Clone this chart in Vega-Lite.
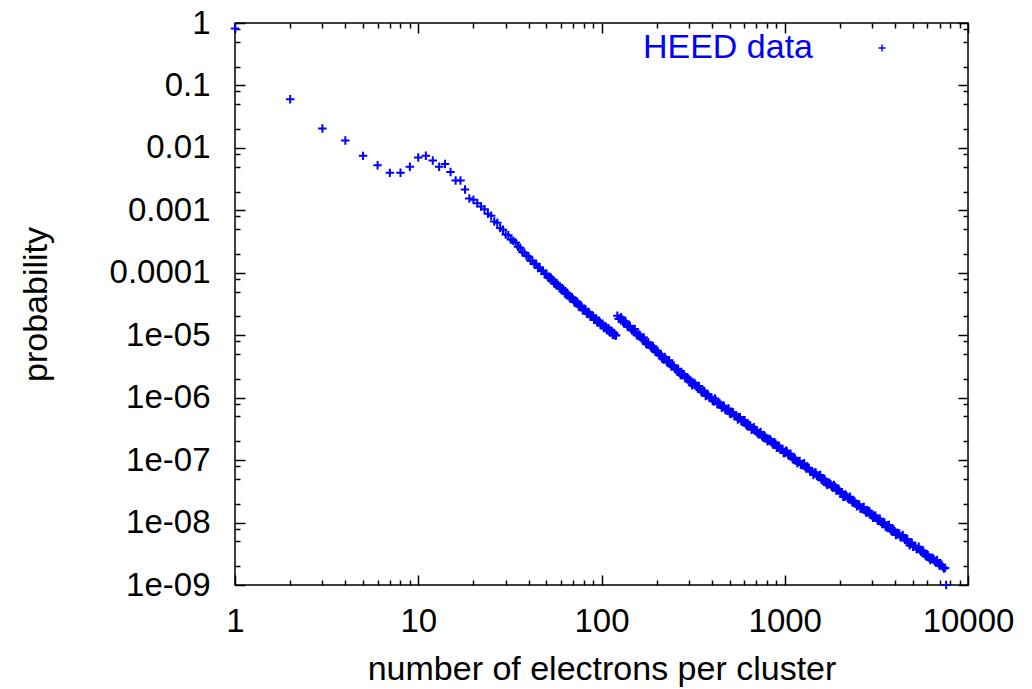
{
  "$schema": "https://vega.github.io/schema/vega-lite/v6.json",
  "width": 733,
  "height": 562,
  "autosize": {"type": "none"},
  "padding": {"left": 235, "top": 23, "right": 64, "bottom": 104},
  "background": "white",
  "config": {
    "font": "Liberation Sans",
    "view": {"stroke": "black", "strokeWidth": 1.5},
    "axis": {"grid": false, "domain": false, "tickColor": "black", "tickWidth": 1.5, "labelColor": "black", "titleColor": "black", "labelFont": "Liberation Sans", "titleFont": "Liberation Sans"}
  },
  "data": {"values": [
    {"n":1,"p":0.82},{"n":2,"p":0.060},{"n":3,"p":0.0204},{"n":4,"p":0.0131},{"n":5,"p":0.00745},
    {"n":6,"p":0.00528},{"n":7,"p":0.00398},{"n":8,"p":0.0040},{"n":9,"p":0.0050},{"n":10,"p":0.0070},
    {"n":11,"p":0.0075},{"n":12,"p":0.0063},{"n":13,"p":0.0050},{"n":14,"p":0.0055},{"n":15,"p":0.0041},
    {"n":16,"p":0.0030},{"n":17,"p":0.0030},{"n":18,"p":0.00215},{"n":19,"p":0.00155},{"n":20,"p":0.00148},
    {"n":21,"p":0.0013},{"n":22,"p":0.00115},{"n":23,"p":0.00104},{"n":24,"p":0.00088},{"n":25,"p":0.00082},
    {"n":26,"p":0.00066},{"n":27,"p":0.00063},{"n":28,"p":0.00052},{"n":29,"p":0.00049},{"n":30,"p":0.00041},
    {"n":31,"p":3.98e-4},{"n":32,"p":3.40e-4},{"n":33,"p":3.27e-4},{"n":34,"p":3.05e-4},{"n":35,"p":2.60e-4},
    {"n":36,"p":2.52e-4},{"n":37,"p":2.13e-4},{"n":38,"p":2.10e-4},{"n":39,"p":1.87e-4},{"n":40,"p":1.83e-4},
    {"n":41,"p":1.56e-4},{"n":42,"p":1.55e-4},{"n":43,"p":1.39e-4},{"n":44,"p":1.40e-4},{"n":45,"p":1.19e-4},
    {"n":46,"p":1.22e-4},{"n":47,"p":1.08e-4},{"n":48,"p":1.07e-4},{"n":49,"p":9.55e-5},{"n":50,"p":9.77e-5},
    {"n":51,"p":8.43e-5},{"n":52,"p":8.18e-5},{"n":53,"p":8.32e-5},{"n":54,"p":7.82e-5},{"n":55,"p":6.78e-5},
    {"n":56,"p":6.59e-5},{"n":57,"p":6.81e-5},{"n":58,"p":6.35e-5},{"n":59,"p":5.65e-5},{"n":60,"p":5.52e-5},
    {"n":61,"p":5.71e-5},{"n":62,"p":5.41e-5},{"n":63,"p":4.72e-5},{"n":64,"p":4.58e-5},{"n":65,"p":4.76e-5},
    {"n":66,"p":4.47e-5},{"n":67,"p":3.95e-5},{"n":68,"p":3.84e-5},{"n":69,"p":4.05e-5},{"n":70,"p":3.76e-5},
    {"n":71,"p":3.41e-5},{"n":72,"p":3.36e-5},{"n":73,"p":3.51e-5},{"n":74,"p":3.34e-5},{"n":75,"p":2.94e-5},
    {"n":76,"p":2.86e-5},{"n":77,"p":3.00e-5},{"n":78,"p":2.83e-5},{"n":79,"p":2.52e-5},{"n":80,"p":2.52e-5},
    {"n":81,"p":2.62e-5},{"n":82,"p":2.55e-5},{"n":83,"p":2.25e-5},{"n":84,"p":2.19e-5},{"n":85,"p":2.36e-5},
    {"n":86,"p":2.21e-5},{"n":87,"p":2.00e-5},{"n":88,"p":2.00e-5},{"n":89,"p":2.08e-5},{"n":90,"p":2.02e-5},
    {"n":91,"p":1.77e-5},{"n":92,"p":1.77e-5},{"n":93,"p":1.86e-5},{"n":94,"p":1.75e-5},{"n":95,"p":1.61e-5},
    {"n":96,"p":1.61e-5},{"n":97,"p":1.70e-5},{"n":98,"p":1.62e-5},{"n":99,"p":1.46e-5},{"n":100,"p":1.44e-5},
    {"n":101,"p":1.52e-5},{"n":102,"p":1.45e-5},{"n":103,"p":1.30e-5},{"n":104,"p":1.32e-5},{"n":105,"p":1.39e-5},
    {"n":106,"p":1.34e-5},{"n":107,"p":1.21e-5},{"n":108,"p":1.20e-5},{"n":109,"p":1.29e-5},{"n":110,"p":1.22e-5},
    {"n":111,"p":1.12e-5},{"n":112,"p":1.12e-5},{"n":113,"p":1.18e-5},{"n":114,"p":1.14e-5},{"n":115,"p":1.02e-5},
    {"n":116,"p":1.04e-5},{"n":117,"p":1.09e-5},{"n":118,"p":1.00e-5},{"n":119,"p":1.01e-5},{"n":120,"p":9.9e-6},
    {"n":122,"p":2.05e-5},{"n":124,"p":1.83e-5},{"n":126,"p":1.83e-5},{"n":128,"p":1.94e-5},{"n":130,"p":1.78e-5},
    {"n":131,"p":1.63e-5},{"n":133,"p":1.54e-5},{"n":135,"p":1.68e-5},{"n":137,"p":1.50e-5},{"n":139,"p":1.37e-5},
    {"n":141,"p":1.41e-5},{"n":143,"p":1.41e-5},{"n":145,"p":1.26e-5},{"n":147,"p":1.19e-5},{"n":150,"p":1.22e-5},
    {"n":152,"p":1.26e-5},{"n":154,"p":1.09e-5},{"n":156,"p":1.00e-5},{"n":158,"p":1.00e-5},{"n":161,"p":1.03e-5},
    {"n":163,"p":9.72e-6},{"n":165,"p":8.91e-6},{"n":168,"p":8.41e-6},{"n":170,"p":9.17e-6},{"n":173,"p":8.18e-6},
    {"n":175,"p":7.29e-6},{"n":178,"p":7.08e-6},{"n":180,"p":7.72e-6},{"n":183,"p":6.88e-6},{"n":186,"p":6.49e-6},
    {"n":188,"p":6.31e-6},{"n":191,"p":6.68e-6},{"n":194,"p":6.13e-6},{"n":197,"p":5.46e-6},{"n":200,"p":5.31e-6},
    {"n":202,"p":5.62e-6},{"n":205,"p":5.16e-6},{"n":208,"p":4.87e-6},{"n":211,"p":4.87e-6},{"n":214,"p":4.22e-6},
    {"n":218,"p":4.10e-6},{"n":221,"p":4.47e-6},{"n":224,"p":4.22e-6},{"n":227,"p":3.76e-6},{"n":230,"p":3.65e-6},
    {"n":234,"p":3.98e-6},{"n":237,"p":3.45e-6},{"n":241,"p":3.16e-6},{"n":244,"p":3.35e-6},{"n":248,"p":3.25e-6},
    {"n":251,"p":2.90e-6},{"n":255,"p":2.82e-6},{"n":259,"p":2.82e-6},{"n":262,"p":2.90e-6},{"n":266,"p":2.51e-6},
    {"n":270,"p":2.30e-6},{"n":274,"p":2.44e-6},{"n":278,"p":2.37e-6},{"n":282,"p":2.37e-6},{"n":286,"p":2.05e-6},
    {"n":290,"p":2.05e-6},{"n":294,"p":2.11e-6},{"n":299,"p":2.00e-6},{"n":303,"p":1.88e-6},{"n":307,"p":1.73e-6},
    {"n":312,"p":1.58e-6},{"n":316,"p":1.68e-6},{"n":321,"p":1.73e-6},{"n":325,"p":1.63e-6},{"n":330,"p":1.50e-6},
    {"n":335,"p":1.41e-6},{"n":340,"p":1.54e-6},{"n":345,"p":1.37e-6},{"n":350,"p":1.26e-6},{"n":355,"p":1.22e-6},
    {"n":360,"p":1.30e-6},{"n":365,"p":1.26e-6},{"n":370,"p":1.06e-6},{"n":376,"p":1.09e-6},{"n":381,"p":1.12e-6},
    {"n":387,"p":1.03e-6},{"n":392,"p":1.00e-6},{"n":398,"p":1.00e-6},{"n":404,"p":8.91e-7},{"n":410,"p":8.66e-7},
    {"n":416,"p":9.72e-7},{"n":422,"p":8.91e-7},{"n":428,"p":7.94e-7},{"n":434,"p":7.94e-7},{"n":440,"p":8.18e-7},
    {"n":447,"p":7.72e-7},{"n":453,"p":6.88e-7},{"n":460,"p":7.50e-7},{"n":466,"p":7.29e-7},{"n":473,"p":6.49e-7},
    {"n":480,"p":6.31e-7},{"n":487,"p":6.31e-7},{"n":494,"p":6.68e-7},{"n":501,"p":5.62e-7},{"n":508,"p":5.46e-7},
    {"n":516,"p":5.79e-7},{"n":523,"p":5.79e-7},{"n":531,"p":5.16e-7},{"n":539,"p":5.16e-7},{"n":546,"p":5.01e-7},
    {"n":554,"p":4.47e-7},{"n":562,"p":4.87e-7},{"n":570,"p":4.87e-7},{"n":579,"p":4.22e-7},{"n":587,"p":4.10e-7},
    {"n":596,"p":4.34e-7},{"n":604,"p":4.34e-7},{"n":613,"p":3.76e-7},{"n":622,"p":3.55e-7},{"n":631,"p":3.65e-7},
    {"n":640,"p":3.65e-7},{"n":649,"p":3.55e-7},{"n":659,"p":3.07e-7},{"n":668,"p":3.16e-7},{"n":678,"p":3.35e-7},
    {"n":688,"p":3.07e-7},{"n":698,"p":2.99e-7},{"n":708,"p":2.74e-7},{"n":718,"p":2.59e-7},{"n":729,"p":2.66e-7},
    {"n":739,"p":2.82e-7},{"n":750,"p":2.44e-7},{"n":761,"p":2.30e-7},{"n":772,"p":2.51e-7},{"n":783,"p":2.37e-7},
    {"n":794,"p":2.18e-7},{"n":806,"p":2.00e-7},{"n":818,"p":2.11e-7},{"n":829,"p":2.18e-7},{"n":841,"p":2.05e-7},
    {"n":854,"p":1.88e-7},{"n":866,"p":1.78e-7},{"n":879,"p":1.94e-7},{"n":891,"p":1.83e-7},{"n":904,"p":1.58e-7},
    {"n":917,"p":1.58e-7},{"n":931,"p":1.68e-7},{"n":944,"p":1.54e-7},{"n":958,"p":1.50e-7},{"n":972,"p":1.50e-7},
    {"n":986,"p":1.30e-7},{"n":1000,"p":1.30e-7},{"n":1015,"p":1.41e-7},{"n":1029,"p":1.37e-7},{"n":1044,"p":1.22e-7},
    {"n":1059,"p":1.19e-7},{"n":1075,"p":1.26e-7},{"n":1090,"p":1.12e-7},{"n":1106,"p":1.03e-7},{"n":1122,"p":1.09e-7},
    {"n":1138,"p":1.06e-7},{"n":1155,"p":9.72e-8},{"n":1172,"p":8.91e-8},{"n":1189,"p":9.44e-8},{"n":1206,"p":9.72e-8},
    {"n":1223,"p":8.41e-8},{"n":1241,"p":8.41e-8},{"n":1259,"p":8.66e-8},{"n":1277,"p":8.91e-8},{"n":1296,"p":7.72e-8},
    {"n":1314,"p":7.29e-8},{"n":1334,"p":7.50e-8},{"n":1353,"p":7.50e-8},{"n":1373,"p":6.68e-8},{"n":1392,"p":6.68e-8},
    {"n":1413,"p":6.49e-8},{"n":1433,"p":5.79e-8},{"n":1454,"p":6.31e-8},{"n":1475,"p":6.31e-8},{"n":1496,"p":5.62e-8},
    {"n":1518,"p":5.46e-8},{"n":1540,"p":5.46e-8},{"n":1562,"p":5.79e-8},{"n":1585,"p":4.87e-8},{"n":1608,"p":4.73e-8},
    {"n":1631,"p":5.01e-8},{"n":1655,"p":4.87e-8},{"n":1679,"p":4.34e-8},{"n":1703,"p":3.98e-8},{"n":1728,"p":4.22e-8},
    {"n":1753,"p":4.34e-8},{"n":1778,"p":4.10e-8},{"n":1804,"p":3.76e-8},{"n":1830,"p":3.65e-8},{"n":1857,"p":3.98e-8},
    {"n":1884,"p":3.76e-8},{"n":1911,"p":3.25e-8},{"n":1939,"p":3.25e-8},{"n":1967,"p":3.45e-8},{"n":1995,"p":3.16e-8},
    {"n":2024,"p":3.07e-8},{"n":2054,"p":2.99e-8},{"n":2083,"p":2.59e-8},{"n":2114,"p":2.59e-8},{"n":2144,"p":2.82e-8},
    {"n":2175,"p":2.66e-8},{"n":2207,"p":2.44e-8},{"n":2239,"p":2.37e-8},{"n":2271,"p":2.59e-8},{"n":2304,"p":2.30e-8},
    {"n":2338,"p":2.11e-8},{"n":2371,"p":2.24e-8},{"n":2406,"p":2.18e-8},{"n":2441,"p":2.00e-8},{"n":2476,"p":1.83e-8},
    {"n":2512,"p":1.94e-8},{"n":2548,"p":1.94e-8},{"n":2585,"p":1.68e-8},{"n":2623,"p":1.68e-8},{"n":2661,"p":1.73e-8},
    {"n":2699,"p":1.78e-8},{"n":2738,"p":1.58e-8},{"n":2778,"p":1.45e-8},{"n":2818,"p":1.45e-8},{"n":2859,"p":1.54e-8},
    {"n":2901,"p":1.50e-8},{"n":2943,"p":1.37e-8},{"n":2985,"p":1.30e-8},{"n":3029,"p":1.19e-8},{"n":3073,"p":1.26e-8},
    {"n":3117,"p":1.30e-8},{"n":3162,"p":1.19e-8},{"n":3208,"p":1.09e-8},{"n":3255,"p":1.06e-8},{"n":3302,"p":1.15e-8},
    {"n":3350,"p":1.03e-8},{"n":3398,"p":9.44e-9},{"n":3448,"p":1.00e-8},{"n":3498,"p":1.00e-8},{"n":3548,"p":8.66e-9},
    {"n":3600,"p":8.41e-9},{"n":3652,"p":8.91e-9},{"n":3705,"p":9.17e-9},{"n":3758,"p":7.94e-9},{"n":3813,"p":7.29e-9},
    {"n":3868,"p":7.50e-9},{"n":3924,"p":7.72e-9},{"n":3981,"p":7.29e-9},{"n":4039,"p":6.31e-9},{"n":4097,"p":6.49e-9},
    {"n":4157,"p":6.68e-9},{"n":4217,"p":6.68e-9},{"n":4278,"p":5.79e-9},{"n":4340,"p":5.79e-9},{"n":4403,"p":6.31e-9},
    {"n":4467,"p":5.62e-9},{"n":4532,"p":5.31e-9},{"n":4597,"p":5.46e-9},{"n":4664,"p":5.46e-9},{"n":4732,"p":4.73e-9},
    {"n":4800,"p":4.34e-9},{"n":4870,"p":4.60e-9},{"n":4940,"p":4.73e-9},{"n":5012,"p":4.10e-9},{"n":5085,"p":4.22e-9},
    {"n":5158,"p":4.22e-9},{"n":5233,"p":3.76e-9},{"n":5309,"p":3.76e-9},{"n":5386,"p":4.10e-9},{"n":5464,"p":3.65e-9},
    {"n":5543,"p":3.45e-9},{"n":5623,"p":3.55e-9},{"n":5705,"p":3.55e-9},{"n":5788,"p":3.16e-9},{"n":5872,"p":2.90e-9},
    {"n":5957,"p":3.07e-9},{"n":6043,"p":2.99e-9},{"n":6131,"p":2.74e-9},{"n":6220,"p":2.51e-9},{"n":6310,"p":2.66e-9},
    {"n":6401,"p":2.74e-9},{"n":6494,"p":2.59e-9},{"n":6588,"p":2.37e-9},{"n":6683,"p":2.30e-9},{"n":6780,"p":2.51e-9},
    {"n":6879,"p":2.24e-9},{"n":6978,"p":2.05e-9},{"n":7080,"p":2.05e-9},{"n":7182,"p":2.11e-9},{"n":7286,"p":1.94e-9},
    {"n":7392,"p":1.83e-9},{"n":7499,"p":1.88e-9},{"n":7600,"p":1.0e-9}
  ]},
  "layer": [
    {
      "mark": {"type": "point", "opacity": 0},
      "encoding": {
        "x": {"field": "n", "type": "quantitative", "scale": {"type": "log", "domain": [1, 10000], "nice": false},
          "axis": {"orient": "bottom", "values": [1, 10, 100, 1000, 10000], "labels": false, "ticks": true, "tickSize": 10, "offset": -10, "title": null}},
        "y": {"field": "p", "type": "quantitative", "scale": {"type": "log", "domain": [1e-9, 1], "nice": false},
          "axis": {"orient": "left", "values": [1, 0.1, 0.01, 0.001, 0.0001, 1e-5, 1e-6, 1e-7, 1e-8, 1e-9], "labels": false, "ticks": true, "tickSize": 10, "offset": -10, "title": null}}
      }
    },
    {
      "mark": {"type": "point", "opacity": 0},
      "encoding": {
        "x": {"field": "n", "type": "quantitative", "scale": {"type": "log", "domain": [1, 10000], "nice": false},
          "axis": {"orient": "bottom", "values": [2,3,4,5,6,7,8,9,20,30,40,50,60,70,80,90,200,300,400,500,600,700,800,900,2000,3000,4000,5000,6000,7000,8000,9000], "labels": false, "ticks": true, "tickSize": 5, "offset": -5, "title": null}},
        "y": {"field": "p", "type": "quantitative", "scale": {"type": "log", "domain": [1e-9, 1], "nice": false},
          "axis": {"orient": "left", "values": [0.8,0.5,0.2,0.08,0.05,0.02,0.008,0.005,0.002,0.0008,0.0005,0.0002,8e-5,5e-5,2e-5,8e-6,5e-6,2e-6,8e-7,5e-7,2e-7,8e-8,5e-8,2e-8,8e-9,5e-9,2e-9], "labels": false, "ticks": true, "tickSize": 5, "offset": -5, "title": null}}
      }
    },
    {
      "mark": {"type": "point", "opacity": 0},
      "encoding": {
        "x": {"field": "n", "type": "quantitative", "scale": {"type": "log", "domain": [1, 10000], "nice": false},
          "axis": {"orient": "top", "values": [1, 10, 100, 1000, 10000], "labels": false, "ticks": true, "tickSize": 10, "offset": -10, "title": null}},
        "y": {"field": "p", "type": "quantitative", "scale": {"type": "log", "domain": [1e-9, 1], "nice": false},
          "axis": {"orient": "right", "values": [1, 0.1, 0.01, 0.001, 0.0001, 1e-5, 1e-6, 1e-7, 1e-8, 1e-9], "labels": false, "ticks": true, "tickSize": 10, "offset": -10, "title": null}}
      }
    },
    {
      "mark": {"type": "point", "opacity": 0},
      "encoding": {
        "x": {"field": "n", "type": "quantitative", "scale": {"type": "log", "domain": [1, 10000], "nice": false},
          "axis": {"orient": "top", "values": [2,3,4,5,6,7,8,9,20,30,40,50,60,70,80,90,200,300,400,500,600,700,800,900,2000,3000,4000,5000,6000,7000,8000,9000], "labels": false, "ticks": true, "tickSize": 5, "offset": -5, "title": null}},
        "y": {"field": "p", "type": "quantitative", "scale": {"type": "log", "domain": [1e-9, 1], "nice": false},
          "axis": {"orient": "right", "values": [0.8,0.5,0.2,0.08,0.05,0.02,0.008,0.005,0.002,0.0008,0.0005,0.0002,8e-5,5e-5,2e-5,8e-6,5e-6,2e-6,8e-7,5e-7,2e-7,8e-8,5e-8,2e-8,8e-9,5e-9,2e-9], "labels": false, "ticks": true, "tickSize": 5, "offset": -5, "title": null}}
      }
    },
    {
      "mark": {"type": "point", "shape": "M-1,0H1M0,-1V1", "filled": false, "size": 72, "strokeWidth": 2, "opacity": 1},
      "encoding": {
        "x": {"field": "n", "type": "quantitative", "scale": {"type": "log", "domain": [1, 10000], "nice": false},
          "axis": {"orient": "bottom", "values": [1, 10, 100, 1000, 10000], "format": "d", "ticks": false, "tickSize": 0,
            "labelFontSize": 33, "labelPadding": 46.5, "labelBaseline": "alphabetic", "labelFlush": false, "labelOverlap": false,
            "title": "number of electrons per cluster", "titleFontSize": 34, "titleFontWeight": "normal",
            "titleX": 366.5, "titleY": 94.5, "titleBaseline": "alphabetic", "titleAlign": "center", "titleAnchor": null}},
        "y": {"field": "p", "type": "quantitative", "scale": {"type": "log", "domain": [1e-9, 1], "nice": false},
          "axis": {"orient": "left", "values": [1, 0.1, 0.01, 0.001, 0.0001, 1e-5, 1e-6, 1e-7, 1e-8, 1e-9],
            "labelExpr": "datum.value > 0.00005 ? format(datum.value, '~g') : '1e-0' + format(-log(datum.value)/LN10, '.0f')",
            "ticks": false, "tickSize": 0, "labelFontSize": 33, "labelPadding": 25, "labelBaseline": "middle", "labelFlush": false, "labelOverlap": false,
            "title": "probability", "titleFontSize": 34, "titleFontWeight": "normal", "titleAngle": -90,
            "titleX": -199, "titleY": 281, "titleBaseline": "middle", "titleAlign": "center"}},
        "color": {"datum": "HEED data", "type": "nominal", "scale": {"range": ["#0000ff"]},
          "legend": {"orient": "none", "legendX": 380, "legendY": 8, "title": null, "padding": 0,
            "labelFontSize": 34, "labelColor": "#0000ff", "labelFont": "Liberation Sans", "labelAlign": "right", "labelBaseline": "middle",
            "labelOffset": -86, "symbolOffset": 250, "labelLimit": 600,
            "symbolType": "M-1,0H1M0,-1V1", "symbolSize": 49, "symbolStrokeWidth": 1.4, "symbolStrokeColor": "#0000ff", "symbolFillColor": "transparent"}}
      }
    }
  ],
  "resolve": {"axis": {"x": "independent", "y": "independent"}}
}
